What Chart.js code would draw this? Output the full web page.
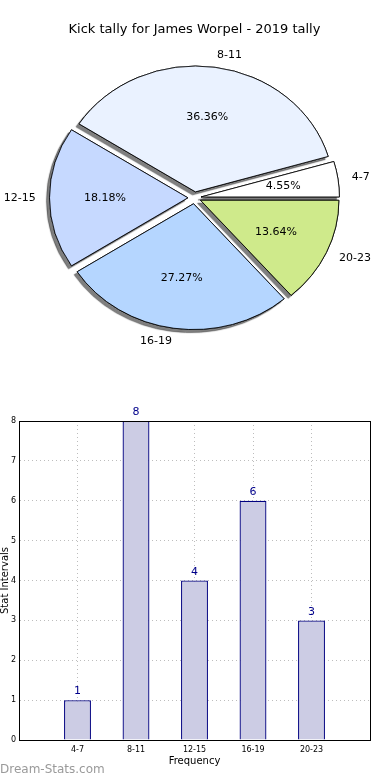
<!DOCTYPE html>
<html>
<head>
<meta charset="utf-8">
<script src="https://cdn.jsdelivr.net/npm/chart.js@4/dist/chart.umd.min.js"></script>
<style>
  body { margin: 0; background: #fff; width: 390px; height: 780px; position: relative; overflow: hidden; font-family: "DejaVu Sans", sans-serif; }
  #pieWrap { position: absolute; left: 0; top: 0; width: 390px; height: 390px; }
  #barWrap { position: absolute; left: 0; top: 390px; width: 390px; height: 390px; }
  #mark { position: absolute; left: 0; top: 762px; font-size: 12px; color: #9a9a9a; }
</style>
</head>
<body>
<div id="pieWrap"><canvas id="pie"></canvas></div>
<div id="barWrap"><canvas id="bar"></canvas></div>
<div id="mark">Dream-Stats.com</div>
<script>
// data
const categories = ['4-7', '8-11', '12-15', '16-19', '20-23'];
const counts = [1, 8, 4, 6, 3];
const pieColors = ['#ffffff', '#eaf2ff', '#c6d9ff', '#b5d6ff', '#cfea8b'];
const yTicks = [0, 1, 2, 3, 4, 5, 6, 7, 8];

const total = counts.reduce((a, b) => a + b, 0);
const ellipseX = 1.1; // pie is a bit wider than tall
const explode = 6;    // px each wedge is pulled out

// pie goes counter clockwise from 3 o'clock, chart.js goes clockwise -> reverse
const pieLabels = categories.slice().reverse();
const pieData = counts.slice().reverse();
const pieBg = pieColors.slice().reverse();

Chart.defaults.font.family = '"DejaVu Sans", sans-serif';
Chart.defaults.color = '#000';
Chart.defaults.animation = false;

function drawWedge(ctx, a) {
  const mid = (a.startAngle + a.endAngle) / 2;
  ctx.save();
  ctx.translate(a.x, a.y);
  ctx.scale(ellipseX, 1);
  ctx.translate(-a.x + Math.cos(mid) * explode, -a.y + Math.sin(mid) * explode);
  a.draw(ctx);
  ctx.restore();
}

const pieLook = {
  id: 'pieLook',
  beforeDatasetsDraw(chart) {
    const ctx = chart.ctx;
    const arcs = chart.getDatasetMeta(0).data;
    // shadows first, under every wedge
    ctx.save();
    ctx.shadowColor = 'rgba(0,0,0,0.5)';
    ctx.shadowOffsetX = -3;
    ctx.shadowOffsetY = 3;
    ctx.shadowBlur = 1;
    arcs.forEach(a => drawWedge(ctx, a));
    ctx.restore();
    arcs.forEach(a => drawWedge(ctx, a));
    return false;
  },
  afterDraw(chart) {
    const ctx = chart.ctx;
    const arcs = chart.getDatasetMeta(0).data;
    ctx.save();
    ctx.fillStyle = '#000';
    ctx.font = '11px "DejaVu Sans"';
    ctx.textBaseline = 'middle';
    arcs.forEach((a, i) => {
      const mid = (a.startAngle + a.endAngle) / 2;
      const c = Math.cos(mid), s = Math.sin(mid);
      const R = a.outerRadius;
      const pct = (pieData[i] / total * 100).toFixed(2) + '%';
      ctx.textAlign = 'center';
      ctx.fillText(pct, a.x + (explode + 0.6 * R) * c * ellipseX, a.y + (explode + 0.6 * R) * s);
      ctx.textAlign = c >= 0 ? 'left' : 'right';
      ctx.fillText(pieLabels[i], a.x + (explode + 1.1 * R) * c * ellipseX, a.y + (explode + 1.1 * R) * s);
    });
    ctx.restore();
  }
};

new Chart(document.getElementById('pie'), {
  type: 'pie',
  data: {
    labels: pieLabels,
    datasets: [{
      data: pieData,
      backgroundColor: pieBg,
      borderColor: '#000',
      borderWidth: 0.8
    }]
  },
  options: {
    responsive: true,
    maintainAspectRatio: false,
    rotation: 90,
    layout: { padding: { left: 68, right: 69, top: 0, bottom: 66 } },
    plugins: {
      legend: { display: false },
      tooltip: { enabled: false },
      title: {
        display: true,
        text: 'Kick tally for James Worpel - 2019 tally',
        font: { size: 13, weight: 'normal' },
        color: '#000',
        padding: { top: 22, bottom: 34 }
      }
    }
  },
  plugins: [pieLook]
});

// bar chart, x axis runs 0..6 with the categories on 1..5
const barLabels = [''].concat(categories, ['']);
const barData = [null].concat(counts, [null]);

const barLook = {
  id: 'barLook',
  afterDraw(chart) {
    const ctx = chart.ctx;
    const area = chart.chartArea;
    ctx.save();
    ctx.strokeStyle = '#000';
    ctx.lineWidth = 1;
    ctx.strokeRect(area.left + 0.5, area.top + 0.5, area.right - area.left, area.bottom - area.top);
    ctx.fillStyle = '#00008b';
    ctx.font = '11px "DejaVu Sans"';
    ctx.textAlign = 'center';
    ctx.textBaseline = 'bottom';
    chart.getDatasetMeta(0).data.forEach((b, i) => {
      if (barData[i] == null) return;
      ctx.fillText(String(barData[i]), b.x, b.y - 3);
    });
    ctx.restore();
  }
};

const gridLook = {
  color: '#bdbdbd',
  lineWidth: 1,
  drawTicks: false
};

new Chart(document.getElementById('bar'), {
  type: 'bar',
  data: {
    labels: barLabels,
    datasets: [{
      data: barData,
      backgroundColor: '#cccce4',
      borderColor: '#000080',
      borderWidth: 1.3,
      categoryPercentage: 1,
      barPercentage: 0.46
    }]
  },
  options: {
    responsive: true,
    maintainAspectRatio: false,
    layout: { padding: { left: 0, right: 20, top: 31, bottom: 0 } },
    plugins: {
      legend: { display: false },
      tooltip: { enabled: false }
    },
    scales: {
      x: {
        offset: false,
        z: 1,
        grid: Object.assign({ offset: false }, gridLook),
        border: { display: true, color: '#000', dash: [1, 3] },
        ticks: { font: { size: 8 }, padding: 5, maxRotation: 0, autoSkip: false },
        title: { display: true, text: 'Frequency', font: { size: 10 }, padding: { top: 0, bottom: 13 } },
        afterFit: s => { s.height = 40; }
      },
      y: {
        min: 0,
        max: 8,
        z: 1,
        grid: gridLook,
        border: { display: true, color: '#000', dash: [1, 3] },
        afterBuildTicks: s => { s.ticks = yTicks.map(v => ({ value: v })); },
        ticks: { font: { size: 8 }, padding: 3 },
        title: { display: true, text: 'Stat Intervals', font: { size: 10 }, padding: { top: -1, bottom: 0 } },
        afterFit: s => { s.width = 19; }
      }
    }
  },
  plugins: [barLook]
});
</script>
</body>
</html>
